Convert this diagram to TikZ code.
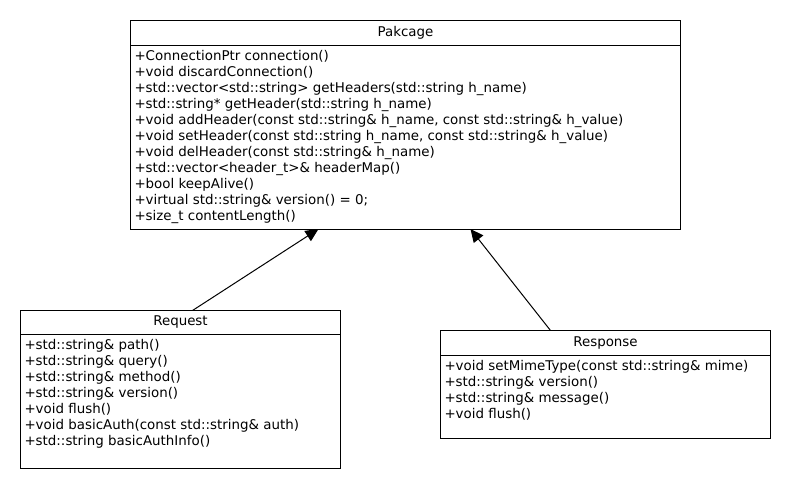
\documentclass[tikz,border=0pt]{standalone}
\usepackage{fontspec}
\setmainfont{DejaVu Sans}
\usetikzlibrary{positioning, arrows.meta}

\begin{document}
\begin{tikzpicture}[x=1pt, y=-1pt, line width=1pt,
		font=\fontsize{13.4pt}{16pt}\selectfont,
		head/.style={draw, shape=rectangle, inner sep=0pt, outer sep=0pt},
		members/.style={draw, shape=rectangle, outer sep=0pt, inner xsep=4pt, inner ysep=5pt, below=0pt of #1},
		inherit/.style={-{Triangle[length=13pt, width=12pt]}}]
		\useasboundingbox (0,0) rectangle (790,490);
		% base class
		\node (pkg) [head, minimum width=550pt, minimum height=25pt] at (405.5,32.5) {Pakcage};
		\node (pkgm) [members=pkg] {\parbox[t][174pt][t]{542pt}{%
			+ConnectionPtr connection()\\
			+void discardConnection()\\
			+std::vector<std::string> getHeaders(std::string h\_name)\\
			+std::string* getHeader(std::string h\_name)\\
			+void addHeader(const std::string\& h\_name, const std::string\& h\_value)\\
			+void setHeader(const std::string h\_name, const std::string\& h\_value)\\
			+void delHeader(const std::string\& h\_name)\\
			+std::vector<header\_t>\& headerMap()\\
			+bool keepAlive()\\
			+virtual std::string\& version() = 0;\\
			+size\_t contentLength()}};
		% derived classes
		\node (req) [head, minimum width=320pt, minimum height=24pt] at (180.5,322.5) {Request};
		\node (reqm) [members=req] {\parbox[t][124pt][t]{312pt}{%
			+std::string\& path()\\
			+std::string\& query()\\
			+std::string\& method()\\
			+std::string\& version()\\
			+void flush()\\
			+void basicAuth(const std::string\& auth)\\
			+std::string basicAuthInfo()}};
		\node (resp) [head, minimum width=330pt, minimum height=25pt] at (605.5,343) {Response};
		\node (respm) [members=resp] {\parbox[t][73pt][t]{322pt}{%
			+void setMimeType(const std::string\& mime)\\
			+std::string\& version()\\
			+std::string\& message()\\
			+void flush()}};
		\draw [inherit] ([xshift=12pt]req.north)   -- ([xshift=-87pt]pkgm.south);
		\draw [inherit] ([xshift=-55pt]resp.north) -- ([xshift=65pt]pkgm.south);
\end{tikzpicture}
\end{document}
